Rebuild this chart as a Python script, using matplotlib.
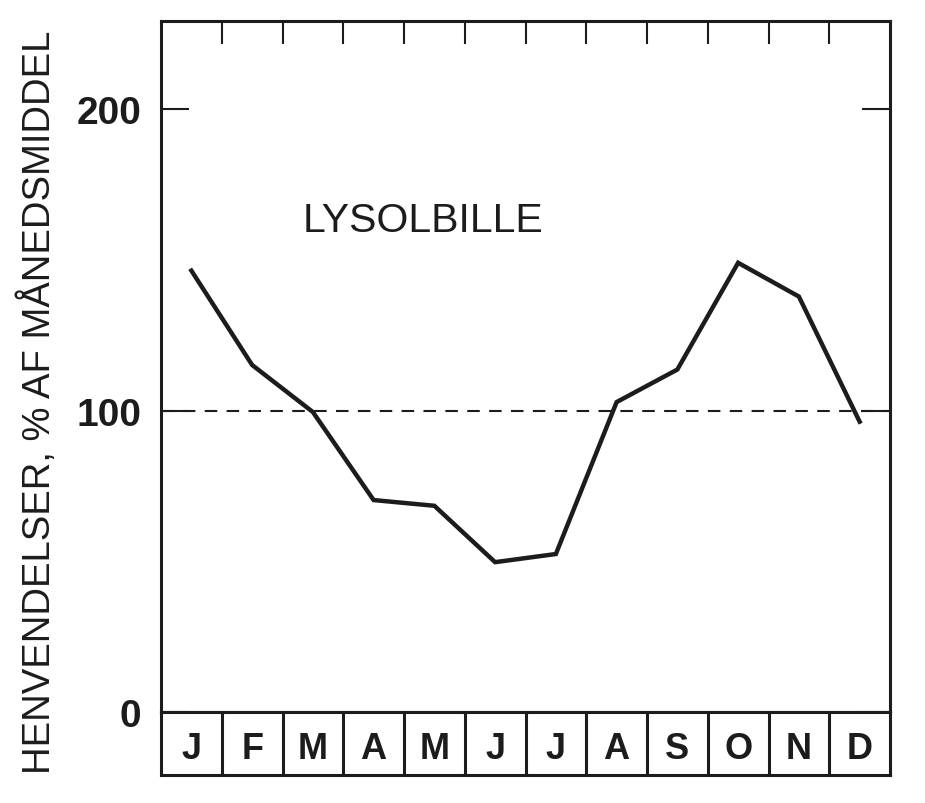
import matplotlib
matplotlib.use('Agg')
import matplotlib.pyplot as plt

months = ['J', 'F', 'M', 'A', 'M', 'J', 'J', 'A', 'S', 'O', 'N', 'D']
values = [146.4, 115.1, 99.5, 70.3, 68.4, 49.7, 52.4, 102.8, 113.6, 149.0, 137.8, 96.3]
yticks = [0, 100, 200]
ytick_labels = ['0', '100', '200']
reference_level = 100
series_name = 'LYSOLBILLE'
ylabel = 'HENVENDELSER, % AF MÅNEDSMIDDEL'

plt.rcParams['font.family'] = ['Liberation Sans', 'DejaVu Sans']
INK = '#1c1c1c'

fig = plt.figure(figsize=(9.25, 8.04), dpi=100)
fig.patch.set_facecolor('white')

ax = fig.add_axes([161 / 925, 1 - 713 / 804, 729 / 925, 691 / 804])
xpos = [i + 0.5 for i in range(len(months))]
ax.plot(xpos, values, color=INK, lw=3.2, solid_joinstyle='miter', zorder=3)
ax.axhline(reference_level, color=INK, lw=1.5, dashes=(6, 4.5), zorder=2)

ax.set_xlim(0, 12)
ax.set_ylim(0, 229.2)
ax.set_xticks(range(1, 12))
ax.xaxis.set_ticks_position('top')
ax.tick_params(axis='x', direction='in', length=16.5, width=1.5, color=INK,
               labeltop=False, labelbottom=False)
ax.set_yticks(yticks)
ax.set_yticklabels(ytick_labels, fontsize=28, fontweight='bold', color=INK)
ax.tick_params(axis='y', direction='in', length=20, width=1.5, color=INK,
               left=True, right=True, pad=14)
for s in ax.spines.values():
    s.set_linewidth(2.2)
    s.set_color(INK)

ax.text(4.315, 159.5, series_name, ha='center', va='baseline', fontsize=29.5, color=INK)

bax = fig.add_axes([161 / 925, 1 - 776 / 804, 729 / 925, 63 / 804])
bax.set_xlim(0, 12)
bax.set_ylim(0, 1)
bax.set_xticks([])
bax.set_yticks([])
for s in bax.spines.values():
    s.set_linewidth(2.2)
    s.set_color(INK)
for b in range(1, 12):
    bax.axvline(b, color=INK, lw=2.2)
for xp, m in zip(xpos, months):
    bax.text(xp, 0.27, m, ha='center', va='baseline', fontsize=26,
             fontweight='bold', color=INK)

fig.text(38 / 925, 1 - 402 / 804, ylabel, rotation=90, ha='center', va='center',
         fontsize=27.5, color=INK)

fig.savefig('out.png', dpi=100, facecolor='white')
